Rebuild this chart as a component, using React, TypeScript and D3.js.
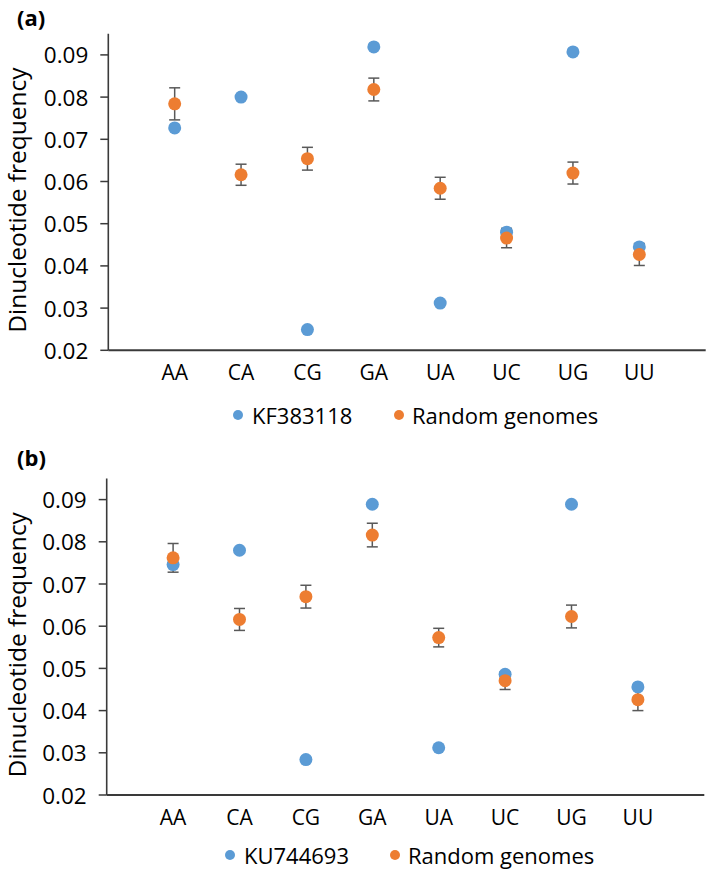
import React from "react";
import * as d3 from "d3";

const categories = ["AA", "CA", "CG", "GA", "UA", "UC", "UG", "UU"];
const yTicks = [0.02, 0.03, 0.04, 0.05, 0.06, 0.07, 0.08, 0.09];

const seriesALabel = "KF383118";
const seriesBLabel = "KU744693";
const randomLabel = "Random genomes";

const panelABlue = [0.0727, 0.08, 0.0249, 0.0919, 0.0312, 0.048, 0.0907, 0.0445];
const panelAOrange = [0.0784, 0.0616, 0.0654, 0.0818, 0.0584, 0.0466, 0.062, 0.0427];
const panelAErr = [0.0038, 0.0025, 0.0027, 0.0027, 0.0026, 0.0023, 0.0026, 0.0026];

const panelBBlue = [0.0746, 0.078, 0.0284, 0.0889, 0.0312, 0.0486, 0.0889, 0.0456];
const panelBOrange = [0.0762, 0.0616, 0.067, 0.0816, 0.0573, 0.0471, 0.0623, 0.0426];
const panelBErr = [0.0034, 0.0026, 0.0027, 0.0028, 0.0022, 0.0021, 0.0027, 0.0026];

const BLUE = "#5B9BD5";
const ORANGE = "#ED7D31";
const FONT = "'Open Sans', 'DejaVu Sans', sans-serif";

type PanelProps = {
  tag: string;
  blue: number[];
  orange: number[];
  err: number[];
  blueLabel: string;
  x0: number;
  x1: number;
  y0: number;
  tagY: number;
  legendY: number;
  legendBlueX: number;
  legendOrangeX: number;
};

function Panel(p: PanelProps) {
  const x = d3.scaleLinear().domain([0, 9]).range([p.x0, p.x1]);
  const step = 42.2;
  const y = d3
    .scaleLinear()
    .domain([0.02, 0.095])
    .range([p.y0, p.y0 - 7.5 * step]);
  const axisColor = "#3a3a3a";
  const r = 6.5;
  return (
    <g>
      <text x={17} y={p.tagY} fontFamily={FONT} fontWeight="bold" fontSize={22} dominantBaseline="central" fill="#000">
        {p.tag}
      </text>
      <text
        transform={`translate(16,${(y(0.02) + y(0.095)) / 2 + 8}) rotate(-90)`}
        textAnchor="middle"
        dominantBaseline="central"
        fontFamily={FONT}
        fontSize={24.5}
        fill="#000"
      >
        Dinucleotide frequency
      </text>
      {yTicks.map((t) => (
        <g key={t}>
          <line x1={p.x0 - 8} x2={p.x0} y1={y(t)} y2={y(t)} stroke={axisColor} strokeWidth={1.5} />
          <text
            x={p.x0 - 20}
            y={y(t)}
            textAnchor="end"
            dominantBaseline="central"
            fontFamily={FONT}
            fontSize={22.5}
            fill="#000"
          >
            {t.toFixed(2)}
          </text>
        </g>
      ))}
      <line x1={p.x0} x2={p.x0} y1={y(0.095)} y2={y(0.02)} stroke={axisColor} strokeWidth={1.6} />
      <line x1={p.x0} x2={p.x1} y1={y(0.02)} y2={y(0.02)} stroke={axisColor} strokeWidth={2} />
      {categories.map((c, i) => (
        <text
          key={c}
          x={x(i + 1)}
          y={y(0.02) + 22}
          textAnchor="middle"
          dominantBaseline="central"
          fontFamily={FONT}
          fontSize={21}
          fill="#000"
        >
          {c}
        </text>
      ))}
      {p.orange.map((v, i) => (
        <g key={"e" + i} stroke="#595959" strokeWidth={1.5}>
          <line x1={x(i + 1)} x2={x(i + 1)} y1={y(v - p.err[i])} y2={y(v + p.err[i])} />
          <line x1={x(i + 1) - 5.5} x2={x(i + 1) + 5.5} y1={y(v + p.err[i])} y2={y(v + p.err[i])} />
          <line x1={x(i + 1) - 5.5} x2={x(i + 1) + 5.5} y1={y(v - p.err[i])} y2={y(v - p.err[i])} />
        </g>
      ))}
      {p.blue.map((v, i) => (
        <circle key={"b" + i} cx={x(i + 1)} cy={y(v)} r={r} fill={BLUE} />
      ))}
      {p.orange.map((v, i) => (
        <circle key={"o" + i} cx={x(i + 1)} cy={y(v)} r={r} fill={ORANGE} />
      ))}
      <circle cx={p.legendBlueX} cy={p.legendY} r={5} fill={BLUE} />
      <text x={p.legendBlueX + 14} y={p.legendY} dominantBaseline="central" fontFamily={FONT} fontSize={22} fill="#000">
        {p.blueLabel}
      </text>
      <circle cx={p.legendOrangeX} cy={p.legendY} r={5} fill={ORANGE} />
      <text x={p.legendOrangeX + 13} y={p.legendY} dominantBaseline="central" fontFamily={FONT} fontSize={22} fill="#000">
        {randomLabel}
      </text>
    </g>
  );
}

export default function App() {
  return (
    <svg
      width={709}
      height={875}
      viewBox="0 0 709 875"
      style={{ position: "absolute", left: 0, top: 0, background: "#fff" }}
    >
      <rect width={709} height={875} fill="#fff" />
      <Panel
        tag="(a)"
        blue={panelABlue}
        orange={panelAOrange}
        err={panelAErr}
        blueLabel={seriesALabel}
        x0={108.3}
        x1={705.7}
        y0={350.3}
        tagY={17}
        legendY={415}
        legendBlueX={238}
        legendOrangeX={399}
      />
      <Panel
        tag="(b)"
        blue={panelBBlue}
        orange={panelBOrange}
        err={panelBErr}
        blueLabel={seriesBLabel}
        x0={106.7}
        x1={704.3}
        y0={795}
        tagY={456.5}
        legendY={855}
        legendBlueX={230}
        legendOrangeX={395}
      />
    </svg>
  );
}
